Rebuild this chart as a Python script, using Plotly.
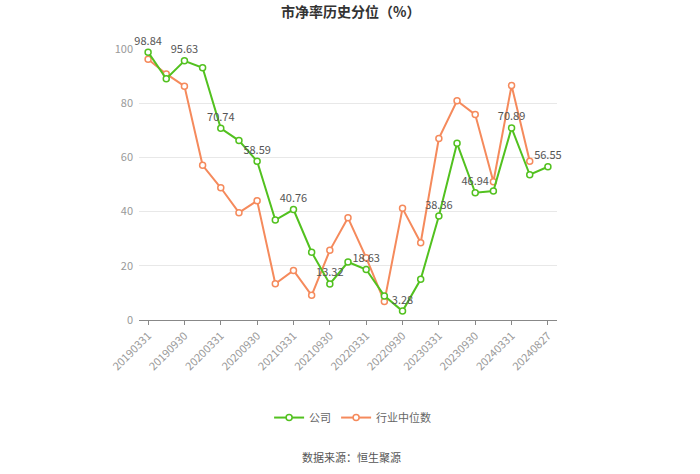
import plotly.graph_objects as go

dates = ["20190331","20190630","20190930","20191231","20200331","20200630","20200930","20201231",
         "20210331","20210630","20210930","20211231","20220331","20220630","20220930","20221231",
         "20230331","20230630","20230930","20231231","20240331","20240630","20240827"]
company = [98.84, 89.0, 95.63, 93.1, 70.74, 66.2, 58.59, 36.9, 40.76, 25.0, 13.32, 21.4,
           18.63, 8.9, 3.28, 15.0, 38.36, 65.2, 46.94, 47.6, 70.89, 53.6, 56.55]
industry = [96.2, 90.8, 86.3, 57.1, 48.8, 39.6, 44.0, 13.4, 18.3, 9.1, 25.7, 37.7,
            23.0, 6.8, 41.2, 28.5, 67.0, 80.9, 75.8, 51.0, 86.5, 58.6, None]
tick_labels = dates[0::2]

green = "#52c11f"
orange = "#f58a5c"
font = "Noto Sans CJK SC"

labels = [f"{v:.2f}" if i % 2 == 0 else "" for i, v in enumerate(company)]

fig = go.Figure()
fig.add_trace(go.Scatter(
    x=dates, y=industry, name="行业中位数", mode="lines+markers",
    line=dict(color=orange, width=2),
    marker=dict(symbol="circle", size=6, color="white", line=dict(color=orange, width=1.5)),
    cliponaxis=False, connectgaps=False,
))
fig.add_trace(go.Scatter(
    x=dates, y=company, name="公司", mode="lines+markers+text",
    text=labels, textposition="top center",
    textfont=dict(color="#555555", size=11, family=font),
    line=dict(color=green, width=2),
    marker=dict(symbol="circle", size=6, color="white", line=dict(color=green, width=1.5)),
    cliponaxis=False,
))

fig.update_layout(
    width=700, height=474,
    margin=dict(l=139, r=143, t=49, b=154),
    paper_bgcolor="white", plot_bgcolor="white",
    font=dict(family=font, color="#999999", size=11),
    title=dict(text="<b>市净率历史分位（%）</b>", x=0.501, xanchor="center", y=0.975, yanchor="middle",
               font=dict(size=14, color="#333333", family=font)),
    showlegend=True,
    legend=dict(orientation="h", x=0.511, xanchor="center", y=-0.36, yanchor="middle",
                font=dict(size=11, color="#666666", family=font), traceorder="reversed",
                itemwidth=30),
    xaxis=dict(type="category", categoryorder="array", categoryarray=dates,
               range=[-0.5, len(dates) - 0.5],
               tickmode="array", tickvals=tick_labels, ticktext=tick_labels,
               tickangle=-45, showgrid=False, showline=True, linecolor="#888888", linewidth=1,
               ticks="outside", ticklen=4, tickcolor="#888888",
               tickfont=dict(size=11, color="#999999")),
    yaxis=dict(range=[0, 100], tickvals=[0, 20, 40, 60, 80, 100], showgrid=True,
               gridcolor="#e8e8e8", zeroline=False, showline=False, ticks="",
               tickfont=dict(size=11, color="#999999"), ticklabelstandoff=5),
    annotations=[dict(text="数据来源：恒生聚源", x=0.509, xref="paper", y=-0.505, yref="paper",
                      xanchor="center", yanchor="middle", showarrow=False,
                      font=dict(size=11, color="#555555", family=font))],
)

fig.write_html("out.html", config={"displayModeBar": False},
               post_script="document.body.style.margin='0';document.body.style.overflow='hidden';")
